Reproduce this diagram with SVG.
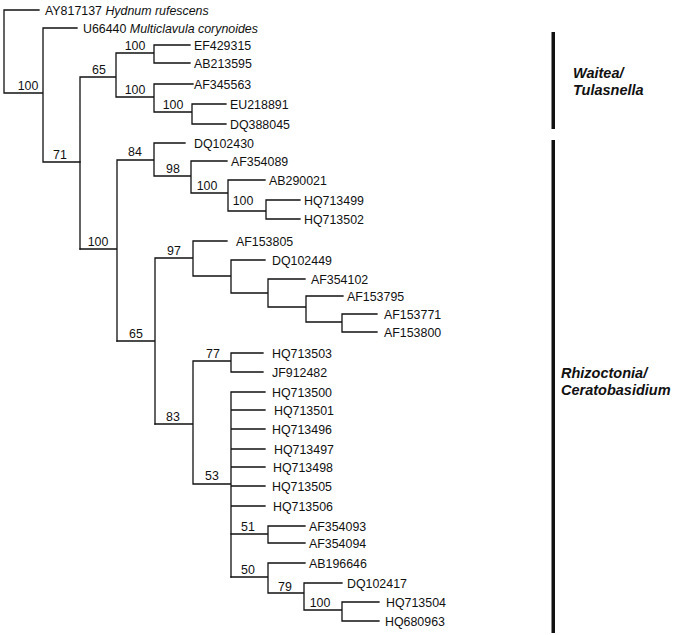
<svg xmlns="http://www.w3.org/2000/svg" width="681" height="635" viewBox="0 0 681 635">
<style>
.e{fill:none;stroke:#111;stroke-width:1.3;stroke-linecap:square}
.t{font-family:"Liberation Sans",Arial,sans-serif;font-size:12.4px;fill:#111}
.s{font-family:"Liberation Sans",Arial,sans-serif;font-size:12.4px;fill:#111;text-anchor:middle}
.i{font-style:italic}
.g{font-family:"Liberation Sans",Arial,sans-serif;font-size:14.5px;font-weight:bold;font-style:italic;fill:#111}
.bar{fill:#111}
</style>
<rect width="681" height="635" fill="#fff"/>
<g id="connectors" class="e">
<path d="M4 10V93M4 10H39M4 93H43M43 28V162M43 28H77M43 162H80"/>
<path d="M80 77V249M80 77H116M116 53V97M116 53H154M154 45V63M154 45H190M154 63H190M116 97H154M154 84V112M154 84H193M154 112H192M192 104V124M192 104H226M192 124H226"/>
<path d="M80 249H117M117 160V341M117 160H154M154 143V176M154 143H185M154 176H191M191 161V193M191 161H227M191 193H228M228 180V211M228 180H265M228 211H266M266 200V219M266 200H300M266 219H300"/>
<path d="M117 341H155M155 258V424M155 258H193M193 241V276M193 241H227M193 276H231M231 260V293M231 260H265M231 293H268M268 279V307M268 279H305M268 307H306M306 296V322M306 296H343M306 322H342M342 314V332M342 314H377M342 332H377"/>
<path d="M155 424H193M193 361V484M193 361H231M231 353V372M231 353H263M231 372H263M193 484H231M231 392V577M231 392H265M231 410H265M231 429H265M231 449H265M231 467H265M231 486H265M231 506H265"/>
<path d="M231 534H268M268 526V543M268 526H305M268 543H305M231 577H268M268 563V593M268 563H305M268 593H304M304 583V610M304 583H342M304 610H342M342 602V621M342 602H379M342 621H379"/>
</g>
<g id="support">
<g id="n-root"><text class="s" x="28" y="90">100</text></g>
<g id="n-71"><text class="s" x="60" y="159">71</text></g>
<g id="n-65a"><text class="s" x="99" y="74">65</text></g>
<g id="n-100a"><text class="s" x="135" y="50">100</text></g>
<g id="n-100b"><text class="s" x="135" y="94">100</text></g>
<g id="n-100c"><text class="s" x="173" y="109">100</text></g>
<g id="n-100d"><text class="s" x="98" y="246">100</text></g>
<g id="n-84"><text class="s" x="135" y="156">84</text></g>
<g id="n-98"><text class="s" x="173" y="173">98</text></g>
<g id="n-100e"><text class="s" x="207" y="190">100</text></g>
<g id="n-100f"><text class="s" x="243" y="205">100</text></g>
<g id="n-97"><text class="s" x="174" y="255">97</text></g>
<g id="n-65b"><text class="s" x="136" y="338">65</text></g>
<g id="n-83"><text class="s" x="173" y="421">83</text></g>
<g id="n-77"><text class="s" x="213" y="358">77</text></g>
<g id="n-53"><text class="s" x="212" y="480">53</text></g>
<g id="n-51"><text class="s" x="248" y="531">51</text></g>
<g id="n-50"><text class="s" x="248" y="574">50</text></g>
<g id="n-79"><text class="s" x="285" y="591">79</text></g>
<g id="n-100g"><text class="s" x="320" y="607">100</text></g>
</g>
<g id="leaves">
<g id="AY817137"><text class="t" x="45" y="14.5">AY817137 <tspan class="i">Hydnum rufescens</tspan></text></g>
<g id="U66440"><text class="t" x="83" y="32.5">U66440 <tspan class="i">Multiclavula corynoides</tspan></text></g>
<g id="EF429315"><text class="t" x="194" y="49.5">EF429315</text></g>
<g id="AB213595"><text class="t" x="194" y="67.5">AB213595</text></g>
<g id="AF345563"><text class="t" x="194" y="88.5">AF345563</text></g>
<g id="EU218891"><text class="t" x="230" y="108.5">EU218891</text></g>
<g id="DQ388045"><text class="t" x="230" y="128.5">DQ388045</text></g>
<g id="DQ102430"><text class="t" x="194" y="147.5">DQ102430</text></g>
<g id="AF354089"><text class="t" x="231" y="165.5">AF354089</text></g>
<g id="AB290021"><text class="t" x="269" y="184.5">AB290021</text></g>
<g id="HQ713499"><text class="t" x="304" y="204.5">HQ713499</text></g>
<g id="HQ713502"><text class="t" x="304" y="223.5">HQ713502</text></g>
<g id="AF153805"><text class="t" x="236" y="245.5">AF153805</text></g>
<g id="DQ102449"><text class="t" x="272" y="264.5">DQ102449</text></g>
<g id="AF354102"><text class="t" x="311" y="283.5">AF354102</text></g>
<g id="AF153795"><text class="t" x="347" y="300.5">AF153795</text></g>
<g id="AF153771"><text class="t" x="384" y="318.5">AF153771</text></g>
<g id="AF153800"><text class="t" x="384" y="336.5">AF153800</text></g>
<g id="HQ713503"><text class="t" x="272" y="357.5">HQ713503</text></g>
<g id="JF912482"><text class="t" x="272" y="376.5">JF912482</text></g>
<g id="HQ713500"><text class="t" x="272" y="396.5">HQ713500</text></g>
<g id="HQ713501"><text class="t" x="274" y="414.5">HQ713501</text></g>
<g id="HQ713496"><text class="t" x="272" y="433.5">HQ713496</text></g>
<g id="HQ713497"><text class="t" x="274" y="453.5">HQ713497</text></g>
<g id="HQ713498"><text class="t" x="273" y="471.5">HQ713498</text></g>
<g id="HQ713505"><text class="t" x="272" y="490.5">HQ713505</text></g>
<g id="HQ713506"><text class="t" x="273" y="510.5">HQ713506</text></g>
<g id="AF354093"><text class="t" x="309" y="530.5">AF354093</text></g>
<g id="AF354094"><text class="t" x="309" y="547.5">AF354094</text></g>
<g id="AB196646"><text class="t" x="309" y="567.5">AB196646</text></g>
<g id="DQ102417"><text class="t" x="347" y="587.5">DQ102417</text></g>
<g id="HQ713504"><text class="t" x="386" y="606.5">HQ713504</text></g>
<g id="HQ680963"><text class="t" x="385" y="625.5">HQ680963</text></g>
</g>
<g id="group-waitea">
<rect class="bar" x="551.5" y="32" width="3.5" height="97"/>
<text class="g" x="573" y="78">Waitea/</text>
<text class="g" x="573" y="95">Tulasnella</text>
</g>
<g id="group-rhizoctonia">
<rect class="bar" x="551.5" y="140" width="3.5" height="493"/>
<text class="g" x="561" y="378">Rhizoctonia/</text>
<text class="g" x="561" y="395">Ceratobasidium</text>
</g>
</svg>
